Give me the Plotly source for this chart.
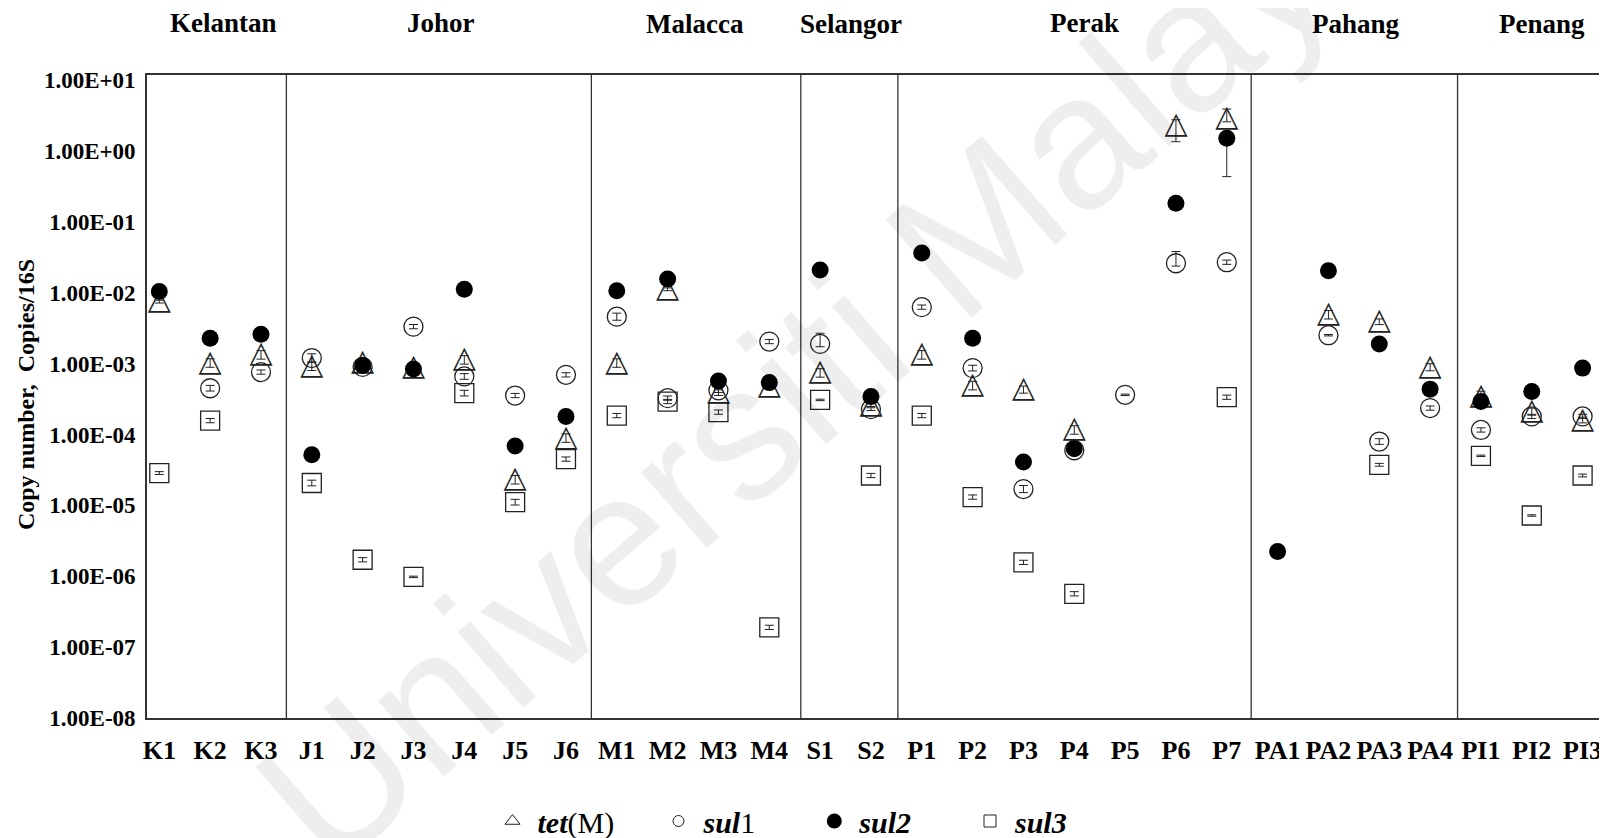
import plotly.graph_objects as go

# ---------------- data ----------------
categories = ["K1", "K2", "K3", "J1", "J2", "J3", "J4", "J5", "J6", "M1", "M2", "M3", "M4",
              "S1", "S2", "P1", "P2", "P3", "P4", "P5", "P6", "P7",
              "PA1", "PA2", "PA3", "PA4", "PI1", "PI2", "PI3"]
regions = ["Kelantan", "Johor", "Malacca", "Selangor", "Perak", "Pahang", "Penang"]
region_counts = [3, 6, 4, 2, 7, 4, 3]

tetM = [7.5e-3, 1.02e-3, 1.33e-3, 9.2e-4, 1.05e-3, 8.9e-4, 1.13e-3, 2.3e-5, 8.9e-5,
        1.02e-3, 1.12e-2, 3.9e-4, 4.7e-4, 7.4e-4, 2.6e-4,
        1.33e-3, 4.9e-4, 4.3e-4, 1.16e-4, None, 2.3, 2.9,
        None, 4.9e-3, 3.9e-3, 8.9e-4, 3.4e-4, 2.1e-4, 1.6e-4]
sul1 = [None, 4.5e-4, 7.6e-4, 1.2e-3, 9.0e-4, 3.33e-3, 6.6e-4, 3.55e-4, 6.95e-4,
        4.6e-3, 3.26e-4, 4.2e-4, 2.05e-3, 1.9e-3, 2.28e-4,
        6.27e-3, 8.65e-4, 1.7e-5, 6.0e-5, 3.63e-4, 2.61e-2, 2.7e-2,
        None, 2.52e-3, 7.96e-5, 2.36e-4, 1.16e-4, 1.8e-4, 1.8e-4]
sul2 = [1.04e-2, 2.29e-3, 2.6e-3, 5.2e-5, 9.4e-4, 8.4e-4, 1.12e-2, 6.9e-5, 1.8e-4,
        1.07e-2, 1.57e-2, 5.7e-4, 5.4e-4, 2.1e-2, 3.44e-4,
        3.63e-2, 2.29e-3, 4.08e-5, 6.28e-5, None, 0.184, 1.51,
        2.24e-6, 2.04e-2, 1.9e-3, 4.37e-4, 2.93e-4, 4.05e-4, 8.65e-4]
sul3 = [2.86e-5, 1.57e-4, None, 2.07e-5, 1.71e-6, 9.8e-7, 3.84e-4, 1.11e-5, 4.5e-5,
        1.85e-4, 2.92e-4, 2.07e-4, 1.9e-7, 3.08e-4, 2.64e-5,
        1.85e-4, 1.31e-5, 1.57e-6, 5.66e-7, None, None, 3.36e-4,
        None, None, 3.74e-5, None, 5.0e-5, 7.2e-6, 2.64e-5]

# error bars, in decades (up / down)
tetM_err_up = [.02, .06, .06, .06, .04, .04, .06, .06, .06, .06, .02, .04, .02, .06, .02,
               .06, .06, .05, .06, 0, .08, .13, 0, .06, .04, .05, .08, .05, .04]
tetM_err_dn = [.02, .06, .06, .06, .04, .04, .06, .06, .06, .06, .02, .04, .02, .06, .02,
               .06, .06, .05, .06, 0, .23, .05, 0, .06, .04, .05, .08, .05, .04]
sul1_err_up = [0, .04, .03, .06, .02, .03, .04, .03, .03, .05, .03, .03, .03, .15, .02,
               .03, .04, .05, .02, .01, .165, .03, 0, .01, .04, .03, .03, .03, .03]
sul1_err_dn = [0, .04, .03, .06, .02, .03, .04, .03, .03, .05, .03, .03, .03, .04, .02,
               .03, .04, .05, .02, .01, .04, .03, 0, .01, .04, .03, .03, .03, .03]
sul2_err_up = [.03] * 21 + [.10] + [.03] * 7
sul2_err_dn = [.03] * 21 + [.54] + [.03] * 7
sul3_err_up = [.02, .03, 0, .04, .03, .01, .04, .04, .03, .03, .03, .03, .03, .01, .03,
               .03, .03, .03, .03, 0, 0, .03, 0, 0, .02, 0, .01, .01, .02]
sul3_err_dn = sul3_err_up

ytick_vals = [1e1, 1e0, 1e-1, 1e-2, 1e-3, 1e-4, 1e-5, 1e-6, 1e-7, 1e-8]
ytick_text = ["1.00E+01", "1.00E+00", "1.00E-01", "1.00E-02", "1.00E-03",
              "1.00E-04", "1.00E-05", "1.00E-06", "1.00E-07", "1.00E-08"]

legend_names = ["<b><i>tet</i></b>(M)", "<b><i>sul</i></b>1", "<b><i>sul2</i></b>", "<b><i>sul3</i></b>"]

# ---------------- style ----------------
FONT = "Liberation Serif"
INK = "#222222"
W, H = 1599, 830          # page body has an 8px margin
ML, MT, MB = 139, 67, 119.7


def abs_err(vals, up, dn):
    plus, minus = [], []
    for v, u, d in zip(vals, up, dn):
        if v is None:
            plus.append(None)
            minus.append(None)
        else:
            plus.append(v * (10 ** u - 1))
            minus.append(v * (1 - 10 ** (-d)))
    return plus, minus


err_style = dict(type="data", symmetric=False, color=INK, thickness=1, width=4.5)

fig = go.Figure()

# tet(M): open triangles drawn as centred glyphs
plus, minus = abs_err(tetM, tetM_err_up, tetM_err_dn)
fig.add_trace(go.Scatter(
    x=categories, y=tetM, mode="text", text=["\u25B3"] * len(categories),
    textposition="middle center", showlegend=False,
    textfont=dict(family="DejaVu Sans", size=30, color=INK),
    error_y=dict(array=plus, arrayminus=minus, **err_style),
))

marker_styles = [
    (sul1, sul1_err_up, sul1_err_dn, dict(symbol="circle-open", size=19, color=INK,
                                          line=dict(color=INK, width=1.3))),
    (sul2, sul2_err_up, sul2_err_dn, dict(symbol="circle", size=17, color="black",
                                          line=dict(color="black", width=0))),
    (sul3, sul3_err_up, sul3_err_dn, dict(symbol="square-open", size=19, color=INK,
                                          line=dict(color=INK, width=1.3))),
]
for vals, up, dn, mk in marker_styles:
    plus, minus = abs_err(vals, up, dn)
    fig.add_trace(go.Scatter(
        x=categories, y=vals, mode="markers", showlegend=False, marker=mk,
        error_y=dict(array=plus, arrayminus=minus, **err_style),
    ))

# legend entries (each in its own legend so positions match the original)
legend_markers = [
    dict(symbol="triangle-up-open", size=13, color=INK, line=dict(color=INK, width=1)),
    dict(symbol="circle-open", size=11, color=INK, line=dict(color=INK, width=1)),
    dict(symbol="circle", size=15, color="black"),
    dict(symbol="square-open", size=12, color=INK, line=dict(color=INK, width=1)),
]
legend_ids = ["legend", "legend2", "legend3", "legend4"]
legend_symbol_x = [504.5, 670.5, 826.3, 982]   # px, symbol centres
for name, mk, lid in zip(legend_names, legend_markers, legend_ids):
    fig.add_trace(go.Scatter(x=[None], y=[None], mode="markers", name=name,
                             marker=mk, showlegend=True, legend=lid))

legend_layout = {}
for lid, sx in zip(legend_ids, legend_symbol_x):
    legend_layout[lid] = dict(
        orientation="h", xref="container", yref="container",
        x=(sx - 25) / W, y=1 - 813 / H, xanchor="left", yanchor="middle",
        itemwidth=40, font=dict(family=FONT, size=30, color="black"),
        bgcolor="rgba(0,0,0,0)", borderwidth=0)

# group separators
sep_adjust = [0, 0, 0.12, 0.03, -0.02, 0.04]
shapes = []
pos = -0.5
for n, adj in zip(region_counts[:-1], sep_adjust):
    pos += n
    shapes.append(dict(type="line", xref="x", yref="paper", x0=pos + adj, x1=pos + adj,
                       y0=0, y1=1, line=dict(color="#333333", width=1.3)))

# region titles
region_offsets = [0.26, 0.04, 0.03, 0.11, 0.2, 0.05, 0.2]
region_y = [1.0805, 1.0805, 1.0795, 1.0795, 1.0805, 1.0795, 1.0795]
annotations = []
start = 0
for name, n, off, yy in zip(regions, region_counts, region_offsets, region_y):
    center = start + (n - 1) / 2 + off
    annotations.append(dict(text="<b>" + name + "</b>", x=center, xref="x", y=yy, yref="paper",
                            showarrow=False, xanchor="center", yanchor="middle",
                            font=dict(family=FONT, size=27, color="black")))
    start += n

# y axis title
annotations.append(dict(text="<b>Copy number,  Copies/16S</b>", x=-0.0832, xref="paper",
                        y=0.503, yref="paper", textangle=-90, showarrow=False,
                        xanchor="center", yanchor="middle",
                        font=dict(family=FONT, size=24, color="black")))

# watermark
annotations.append(dict(text="Universiti Malaya", x=0.47, xref="paper", y=0.57, yref="paper",
                        textangle=-41, showarrow=False, xanchor="center", yanchor="middle",
                        font=dict(family="Liberation Sans", size=190, color="rgba(0,0,0,0.065)")))

fig.update_layout(
    width=W, height=H,
    margin=dict(l=ML, r=0, t=MT, b=MB, pad=0),
    paper_bgcolor="white", plot_bgcolor="white",
    shapes=shapes, annotations=annotations,
    showlegend=True,
    xaxis=dict(type="category", categoryorder="array", categoryarray=categories,
               range=[-0.242, 28.48], showgrid=False, zeroline=False,
               showline=True, linecolor="#333333", linewidth=1.6, mirror=True, ticks="",
               tickfont=dict(family=FONT, size=26, color="black", weight="bold"),
               ticklabelstandoff=8),
    yaxis=dict(type="log", range=[-8, 1.073], showgrid=False, zeroline=False,
               showline=True, linecolor="#333333", linewidth=1.6, mirror=False, ticks="",
               tickvals=ytick_vals, ticktext=ytick_text,
               tickfont=dict(family=FONT, size=23, color="black", weight="bold"),
               ticklabelstandoff=5),
    **legend_layout,
)

fig.write_html("out.html")
